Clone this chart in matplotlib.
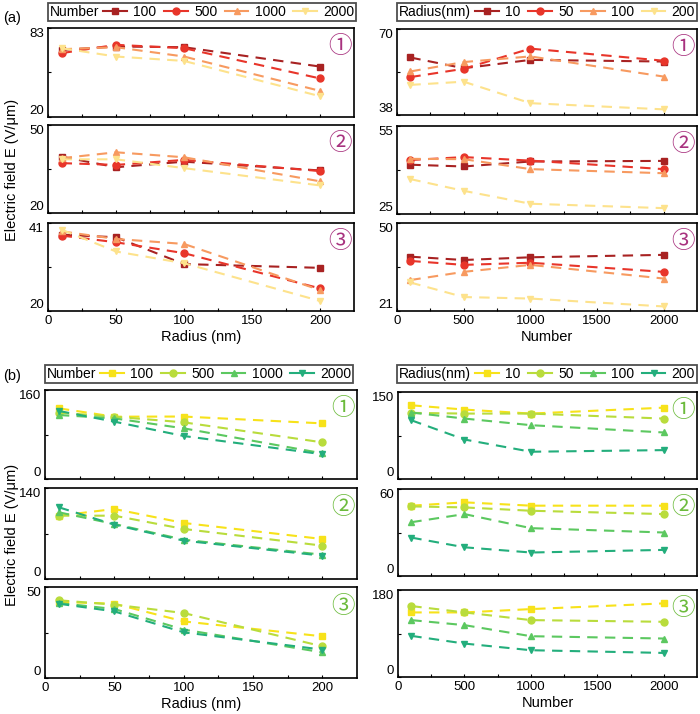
import numpy as np
import matplotlib
matplotlib.use("Agg")
import matplotlib.pyplot as plt
from matplotlib.lines import Line2D
from matplotlib.offsetbox import HPacker

plt.rcParams['font.family'] = ['Liberation Sans', 'DejaVu Sans']

# x values
radius = [10, 50, 100, 200]
number = [100, 500, 1000, 2000]
number_labels = ['100', '500', '1000', '2000']
radius_labels = ['10', '50', '100', '200']

# (a) E vs radius, one series per number
a_rad_1 = [[67.5, 69.9, 69.4, 55.7], [65.2, 71.1, 68.7, 47.3],
           [68.0, 69.4, 62.8, 38.5], [68.7, 62.8, 59.7, 34.7]]
a_rad_2 = [[39.2, 35.6, 37.5, 34.5], [37.0, 36.4, 38.1, 34.3],
           [38.7, 40.7, 39.0, 30.8], [38.3, 38.3, 35.3, 29.4]]
a_rad_3 = [[38.2, 37.6, 31.2, 30.3], [38.0, 36.4, 33.8, 25.4],
           [39.0, 37.2, 36.0, 25.0], [39.4, 34.2, 31.4, 22.4]]
# (a) E vs number, one series per radius
a_num_1 = [[59.4, 55.4, 58.5, 57.9], [52.1, 55.2, 62.7, 58.2],
           [54.2, 57.7, 59.8, 52.3], [49.2, 50.4, 42.4, 40.1]]
a_num_2 = [[41.8, 41.2, 42.9, 43.1], [43.4, 44.4, 43.2, 40.3],
           [43.8, 43.7, 40.3, 38.9], [36.9, 32.9, 28.5, 27.0]]
a_num_3 = [[38.9, 37.8, 38.7, 39.5], [37.5, 36.2, 36.9, 33.9],
           [31.2, 33.9, 36.2, 31.7], [30.4, 25.6, 25.1, 22.5]]

# (b) E vs radius
b_rad_1 = [[127, 112, 112.3, 100], [119.3, 112, 101.9, 65.9],
           [115, 109, 91.1, 46.2], [122.3, 103.1, 77.3, 44.5]]
b_rad_2 = [[97.4, 107.7, 86.2, 61.5], [97.4, 97.4, 77.0, 51.3],
           [102.6, 84.6, 60.5, 37.4], [110.3, 83.6, 59.0, 35.9]]
b_rad_3 = [[41.8, 40.8, 31.1, 22.9], [42.7, 40.3, 35.7, 17.4],
           [41.2, 37.9, 26.6, 14.1], [40.8, 36.6, 25.1, 15.6]]
# (b) E vs number
b_num_1 = [[127.1, 119.7, 112.8, 123], [114, 112.8, 112.8, 104.2],
           [114.6, 104.2, 92.8, 80.2], [101.3, 68.1, 47, 49.8]]
b_num_2 = [[48.5, 50.8, 48.5, 48.5], [48, 47.3, 45, 42.7],
           [37.1, 42.7, 33, 30], [26.5, 19.8, 16.2, 18]]
b_num_3 = [[133.6, 133.6, 140.5, 152.3], [146.8, 133.6, 117.7, 114.2],
           [117.7, 107.3, 84.4, 79.6], [85.1, 69.2, 55.4, 49.8]]

ylims_a_rad = [(20, 83), (20, 50), (20, 41)]
ylims_a_num = [(38, 70), (25, 55), (21, 50)]
ylims_b_rad = [(0, 160), (0, 140), (0, 50)]
ylims_b_num = [(0, 150), (0, 60), (0, 180)]

colors_a = ['#a82222', '#e8352a', '#f79a60', '#fde28c']
colors_b = ['#f7e21a', '#b9dc3c', '#5cc860', '#23ae7c']
markers = ['s', 'o', '^', 'v']
circ = ['①', '②', '③']
circ_a = '#a8327f'
circ_b = '#6cbb3c'

W, H = 700, 714
fig = plt.figure(figsize=(7, 7.14), dpi=100)


def px_ax(x0, x1, y0, y1):
    return fig.add_axes([x0 / W, 1 - y1 / H, (x1 - x0) / W, (y1 - y0) / H])


def draw_panel(ax, xs, series, colors, ylim, xlim, xmajor, xminor, label, ccol, show_x):
    for vals, c, m in zip(series, colors, markers):
        ax.plot(xs, vals, color=c, marker=m, ms=5, lw=1.5, dashes=(5, 3.5))
    ax.set_xlim(*xlim)
    ax.set_ylim(*ylim)
    lo, hi = ylim
    ax.set_yticks([lo, (lo + hi) / 2, hi])
    ax.set_yticklabels([f'{lo:g}', '', f'{hi:g}'])
    ylab = ax.get_yticklabels()
    ylab[0].set_va('bottom')
    ylab[2].set_va('top')
    ax.set_xticks(xmajor)
    ax.set_xticks(xminor, minor=True)
    ax.tick_params(direction='in', length=2.5, width=0.8, labelsize=9.5, pad=3)
    ax.tick_params(which='minor', direction='in', length=2.5, width=0.8)
    if not show_x:
        ax.tick_params(labelbottom=False)
    for s in ax.spines.values():
        s.set_linewidth(1.2)
    ax.text(0.955, 0.79, label, transform=ax.transAxes, ha='center', va='center',
            fontsize=17, color=ccol, family=['DejaVu Serif', 'Noto Sans CJK SC', 'DejaVu Sans'])


def inline_legend(ax, title, labels, colors, bbox):
    handles = [Line2D([], [], color=c, marker=m, ms=5, lw=1.5)
               for c, m in zip(colors, markers)]
    leg = ax.legend(handles, labels, title=title, ncol=4, loc='center',
                    bbox_to_anchor=bbox, bbox_transform=fig.transFigure,
                    frameon=True, fancybox=False, edgecolor='#222222',
                    fontsize=10, title_fontsize=10, handlelength=1.7,
                    handletextpad=0.45, columnspacing=0.55, borderpad=0.15,
                    borderaxespad=0)
    leg.get_frame().set_linewidth(1.3)
    box = HPacker(pad=leg.borderpad * leg._fontsize, sep=0.3 * leg._fontsize,
                  align='center',
                  children=[leg._legend_title_box, leg._legend_handle_box])
    box.set_figure(fig)
    box.set_offset(leg._findoffset)
    leg._legend_box = box
    return leg


rad_xlim = (0, 225)
num_xlim = (0, 2250)
rad_major = [0, 50, 100, 150, 200]
rad_minor = [25, 75, 125, 175]
num_major = [0, 500, 1000, 1500, 2000]
num_minor = [250, 750, 1250, 1750]

rows_a_left = [(28, 117), (125, 213), (223, 311)]
rows_a_right = [(29, 115), (126, 214), (223, 311)]
rows_b_left = [(390, 479), (488, 579), (587, 678)]
rows_b_right = [(392, 479), (489, 576), (590, 677)]

a_rad = [a_rad_1, a_rad_2, a_rad_3]
a_num = [a_num_1, a_num_2, a_num_3]
b_rad = [b_rad_1, b_rad_2, b_rad_3]
b_num = [b_num_1, b_num_2, b_num_3]

axes_a_left, axes_a_right, axes_b_left, axes_b_right = [], [], [], []
for i in range(3):
    ax = px_ax(48, 354, *rows_a_left[i])
    draw_panel(ax, radius, a_rad[i], colors_a, ylims_a_rad[i], rad_xlim,
               rad_major, rad_minor, circ[i], circ_a, i == 2)
    axes_a_left.append(ax)
    ax = px_ax(397, 697, *rows_a_right[i])
    draw_panel(ax, number, a_num[i], colors_a, ylims_a_num[i], num_xlim,
               num_major, num_minor, circ[i], circ_a, i == 2)
    axes_a_right.append(ax)
    ax = px_ax(45, 357, *rows_b_left[i])
    draw_panel(ax, radius, b_rad[i], colors_b, ylims_b_rad[i], rad_xlim,
               rad_major, rad_minor, circ[i], circ_b, i == 2)
    axes_b_left.append(ax)
    ax = px_ax(398, 697, *rows_b_right[i])
    draw_panel(ax, number, b_num[i], colors_b, ylims_b_num[i], num_xlim,
               num_major, num_minor, circ[i], circ_b, i == 2)
    axes_b_right.append(ax)

axes_a_left[2].set_xlabel('Radius (nm)', fontsize=10.5, labelpad=2)
axes_a_right[2].set_xlabel('Number', fontsize=10.5, labelpad=2)
axes_b_left[2].set_xlabel('Radius (nm)', fontsize=10.5, labelpad=2)
axes_b_right[2].set_xlabel('Number', fontsize=10.5, labelpad=2)

inline_legend(axes_a_left[0], 'Number', number_labels, colors_a,
              (202 / W, 1 - 12 / H))
inline_legend(axes_a_right[0], 'Radius(nm)', radius_labels, colors_a,
              (547 / W, 1 - 12 / H))
inline_legend(axes_b_left[0], 'Number', number_labels, colors_b,
              (199 / W, 1 - 374 / H))
inline_legend(axes_b_right[0], 'Radius(nm)', radius_labels, colors_b,
              (547 / W, 1 - 374 / H))

fig.text(12 / W, 1 - 170 / H, 'Electric field E (V/μm)', rotation=90,
         ha='center', va='center', fontsize=10.5)
fig.text(12 / W, 1 - 535 / H, 'Electric field E (V/μm)', rotation=90,
         ha='center', va='center', fontsize=10.5)
fig.text(3 / W, 1 - 18 / H, '(a)', ha='left', va='center', fontsize=10.5)
fig.text(3 / W, 1 - 376 / H, '(b)', ha='left', va='center', fontsize=10.5)

fig.savefig('out.png', dpi=100)
